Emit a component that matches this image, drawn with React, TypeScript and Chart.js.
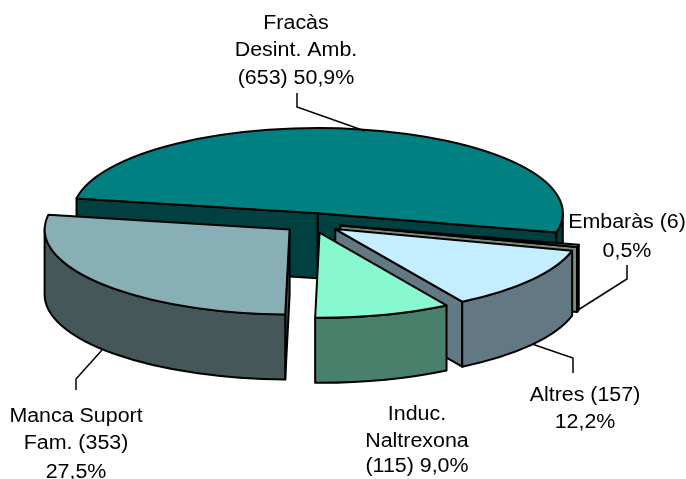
import React, { useEffect, useRef } from "react";
import { Chart, registerables } from "chart.js";

Chart.register(...registerables);

const categories = ["Fracàs Desint. Amb.", "Embaràs", "Altres", "Induc. Naltrexona", "Manca Suport Fam."];
const values = [653, 6, 157, 115, 353];
const topColors = ["#008080", "#C8D0B8", "#C4EEFF", "#87F8D0", "#88AEB6"];
const wallColors = ["#004040", "#7A8A7C", "#627883", "#48806C", "#455759"];
const labelLines = [
  ["Fracàs", "Desint. Amb.", "(653) 50,9%"],
  ["Embaràs (6)", "0,5%"],
  ["Altres (157)", "12,2%"],
  ["Induc.", "Naltrexona", "(115) 9,0%"],
  ["Manca Suport", "Fam. (353)", "27,5%"],
];
const labelCentres = [296, 627, 585, 417, 76];
const labelBaselines = [
  [29, 56, 84],
  [228, 257],
  [401, 428],
  [420, 447, 472],
  [422, 449, 478],
];
const leaders: number[][][] = [
  [[297, 93], [297, 107], [365, 131]],
  [[627, 265], [627, 279], [578, 310]],
  [[573, 373], [573, 358], [532, 344]],
  [],
  [[76, 390], [76, 379], [102, 350]],
];
const TILT = 0.347;
const DEPTH = 65;
const RADIUS = 245;
const EXPLODE = 29;
const FONT = '20px "Liberation Sans", Arial, sans-serif';
const TEXT_STRETCH = 1.07;

const pie3d = {
  id: "pie3d",
  beforeDatasetDraw(chart: any) {
    const ctx = chart.ctx as CanvasRenderingContext2D;
    const arcs = chart.getDatasetMeta(0).data;
    arcs.forEach((arc: any, i: number) => {
      const { x, y, startAngle, endAngle, outerRadius } = arc.getProps(["x", "y", "startAngle", "endAngle", "outerRadius"]);
      const mid = (startAngle + endAngle) / 2;
      const dx = Math.cos(mid) * EXPLODE;
      const dy = Math.sin(mid) * EXPLODE;
      const px = x + dx;
      const py = y + dy * TILT;
      const ry = outerRadius * TILT;
      const corner = (a: number) => [px + Math.cos(a) * outerRadius, py + Math.sin(a) * ry];

      ctx.save();
      ctx.lineWidth = 2;
      ctx.lineJoin = "round";
      ctx.strokeStyle = "#000";
      ctx.fillStyle = wallColors[i];

      const cutFace = (a: number) => {
        const [cx, cy] = corner(a);
        ctx.beginPath();
        ctx.moveTo(px, py);
        ctx.lineTo(cx, cy);
        ctx.lineTo(cx, cy + DEPTH);
        ctx.lineTo(px, py + DEPTH);
        ctx.closePath();
        ctx.fill();
        ctx.stroke();
      };
      if (-Math.cos(startAngle) > 0) cutFace(startAngle);
      if (Math.cos(endAngle) > 0) cutFace(endAngle);

      const tau = Math.PI * 2;
      for (let k = 0; k < 3; k++) {
        const lo = Math.max(startAngle, (k - 1) * tau);
        const hi = Math.min(endAngle, (k - 1) * tau + Math.PI);
        if (hi <= lo) continue;
        ctx.beginPath();
        ctx.ellipse(px, py, outerRadius, ry, 0, lo, hi);
        ctx.ellipse(px, py + DEPTH, outerRadius, ry, 0, hi, lo, true);
        ctx.closePath();
        ctx.fill();
        ctx.stroke();
      }

      // top face: the library's own arc, flattened and moved out of the centre
      ctx.save();
      ctx.translate(dx, py);
      ctx.scale(1, TILT);
      ctx.translate(0, -y);
      arc.draw(ctx);
      ctx.restore();

      ctx.beginPath();
      ctx.moveTo(px, py);
      ctx.ellipse(px, py, outerRadius, ry, 0, startAngle, endAngle);
      ctx.closePath();
      ctx.stroke();
      ctx.restore();
    });
    return false;
  },
  afterDraw(chart: any) {
    const ctx = chart.ctx as CanvasRenderingContext2D;
    ctx.save();
    ctx.strokeStyle = "#000";
    ctx.lineWidth = 1.5;
    leaders.forEach((pts) => {
      if (!pts.length) return;
      ctx.beginPath();
      pts.forEach(([x, y], j) => (j ? ctx.lineTo(x, y) : ctx.moveTo(x, y)));
      ctx.stroke();
    });
    ctx.fillStyle = "#000";
    ctx.font = FONT;
    ctx.textAlign = "center";
    ctx.textBaseline = "alphabetic";
    labelLines.forEach((lines, i) => {
      lines.forEach((t, j) => {
        ctx.save();
        ctx.translate(labelCentres[i], labelBaselines[i][j]);
        ctx.scale(TEXT_STRETCH, 1);
        ctx.fillText(t, 0, 0);
        ctx.restore();
      });
    });
    ctx.restore();
  },
};

export default function App() {
  const ref = useRef<HTMLCanvasElement>(null);
  useEffect(() => {
    document.body.style.margin = "0";
    const chart = new Chart(ref.current!, {
      type: "pie",
      data: {
        labels: categories,
        datasets: [
          {
            data: values,
            backgroundColor: topColors,
            borderWidth: 0,
            radius: RADIUS,
          } as any,
        ],
      },
      options: {
        responsive: false,
        animation: false,
        rotation: 280,
        events: [],
        layout: { padding: { right: 62, bottom: 33 } },
        plugins: { legend: { display: false }, tooltip: { enabled: false }, title: { display: false } },
      },
      plugins: [pie3d],
    });
    return () => chart.destroy();
  }, []);
  return <canvas ref={ref} width={686} height={479} style={{ display: "block" }} />;
}
